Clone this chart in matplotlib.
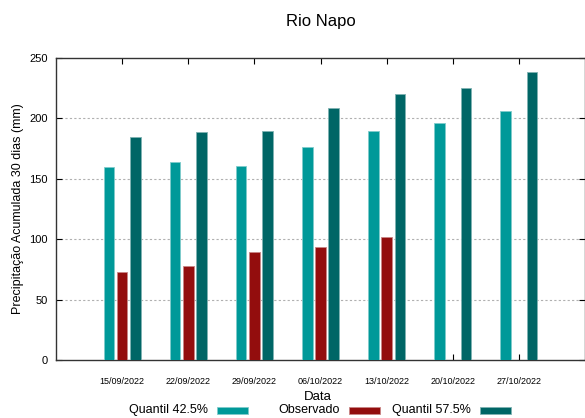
import matplotlib
matplotlib.use("Agg")
import matplotlib.pyplot as plt
from matplotlib.patches import Rectangle
import numpy as np

plt.rcParams['font.family'] = ['Liberation Sans', 'DejaVu Sans']

datas = ["15/09/2022", "22/09/2022", "29/09/2022", "06/10/2022",
         "13/10/2022", "20/10/2022", "27/10/2022"]
quantil_425 = [160, 163.5, 161, 176, 189.5, 196.5, 206.5]
observado = [72.5, 77.5, 89.5, 93.5, 101.5, np.nan, np.nan]
quantil_575 = [185, 188.5, 189.5, 209, 220, 225, 238.5]

series = ["Quantil 42.5%", "Observado", "Quantil 57.5%"]
cores = ["#009999", "#930d0d", "#006666"]
bordas = ["#7fcccc", "#c98686", "#7fb2b2"]

x = np.arange(1, len(datas) + 1)
w = 0.16
off = 0.2

fig = plt.figure(figsize=(5.85, 4.18), dpi=100)
ax = fig.add_axes([56/585, 1-360/418, 1-56/585, (360-58)/418])

for i, vals in enumerate([quantil_425, observado, quantil_575]):
    ax.bar(x + (i - 1) * off, vals, w, color=cores[i], edgecolor=bordas[i],
           linewidth=0.6, zorder=3)

ax.set_xlim(0, 8)
ax.set_ylim(0, 250)
ax.set_xticks(x)
ax.set_xticklabels(datas, fontsize=6.5)
ax.set_yticks(np.arange(0, 251, 50))
ax.tick_params(axis='y', labelsize=8, direction='in', right=True, length=4, pad=6)
ax.tick_params(axis='x', direction='in', top=True, length=4, pad=12)
for yv in [50, 100, 150, 200]:
    ax.axhline(yv, color="#b0b0b0", lw=0.8, ls=(0, (2, 2)), zorder=1)
for s in ax.spines.values():
    s.set_color("#333333")
    s.set_linewidth(1)

ax.set_title("Rio Napo", fontsize=12, pad=23)
ax.set_ylabel("Precipitação Acumulada 30 dias (mm)", fontsize=9, labelpad=4)
fig.text(318/585, 1-397/418, "Data", ha='center', va='center', fontsize=9.5)

# legenda no estilo gnuplot: texto e depois a amostra
for i, nome in enumerate(series):
    x0 = 217 + i * 131.5
    fig.text((x0 - 9) / 585, 1 - 410/418, nome, ha='right', va='center', fontsize=9)
    fig.patches.append(Rectangle((x0 / 585, 1 - 414/418), 31 / 585, 7 / 418,
                                 transform=fig.transFigure, facecolor=cores[i],
                                 edgecolor=bordas[i], linewidth=0.6))

fig.savefig("out.png", dpi=100)
